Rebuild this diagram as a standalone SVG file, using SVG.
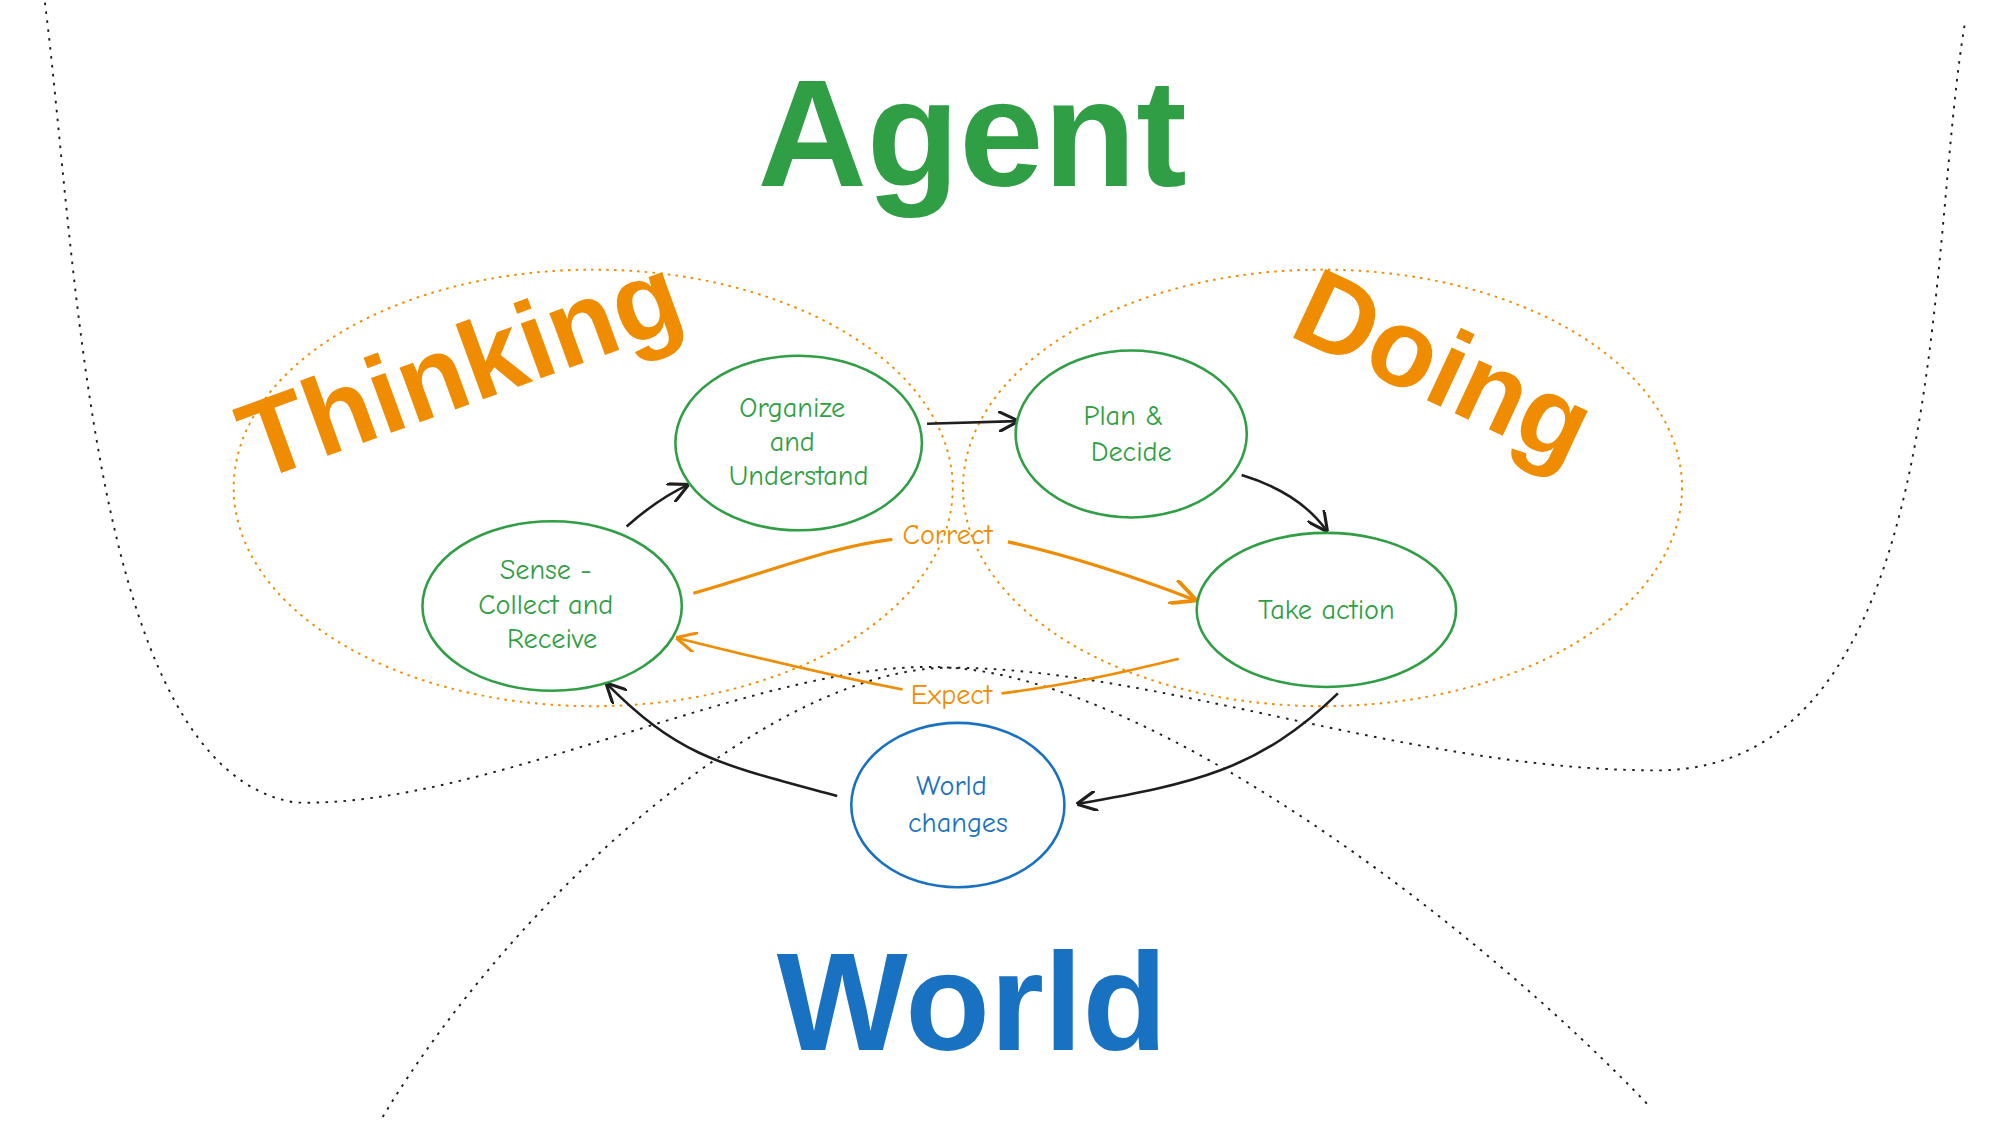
<svg xmlns="http://www.w3.org/2000/svg" width="2003" height="1144" viewBox="0 0 2003 1144">
<defs>
<marker id="ab" viewBox="0 0 10 10" refX="9" refY="5" markerWidth="8" markerHeight="8" orient="auto-start-reverse"><path d="M0,0 L10,5 L0,10" fill="none" stroke="#1e1e1e" stroke-width="1.5"/></marker>
<marker id="ao" viewBox="0 0 10 10" refX="9" refY="5" markerWidth="8" markerHeight="8" orient="auto-start-reverse"><path d="M0,0 L10,5 L0,10" fill="none" stroke="#f08c00" stroke-width="1.5"/></marker>
<style>
.n{fill:#fff;stroke:#2f9e44;stroke-width:2}
.t{font-family:"Comic Neue","Liberation Sans",sans-serif;fill:#2f9e44;font-size:22px;text-anchor:middle}
.big{font-family:"Liberation Sans",sans-serif;font-weight:bold;text-anchor:middle}
.dot{fill:none;stroke:#1e1e1e;stroke-width:1.5;stroke-dasharray:2 5}
.odot{fill:none;stroke:#f08c00;stroke-width:1.5;stroke-dasharray:2 4}
</style>
</defs>
<rect width="2003" height="1144" fill="#fff"/>
<g transform="scale(1.284)">
<g id="bg">
<path class="dot" d="M35,2 C60,200 70,600 230,625 C380,630 600,510 740,520 C900,530 1150,720 1285,862"/>
<path class="dot" d="M1530,20 C1500,200 1520,600 1290,600 C1100,600 900,520 740,520 C600,520 400,700 298,870"/>
<ellipse class="odot" cx="462" cy="380" rx="280" ry="170"/>
<ellipse class="odot" cx="1030" cy="380" rx="280" ry="170"/>
</g>
<g id="titles">
<text class="big" x="757" y="145" font-size="118" fill="#2f9e44">Agent</text>
<text class="big" x="358" y="315" font-size="86" fill="#f08c00" transform="rotate(-20 360 285)">Thinking</text>
<text class="big" x="1125" y="315" font-size="86" fill="#f08c00" transform="rotate(25 1125 285)">Doing</text>
<text class="big" x="757" y="818" font-size="108" fill="#1971c2">World</text>
</g>
<g id="connectors">
<path d="M722,330 L792,328" fill="none" stroke="#1e1e1e" stroke-width="2" marker-end="url(#ab)"/>
<path d="M967,370 C1000,380 1020,395 1033,413" fill="none" stroke="#1e1e1e" stroke-width="2" marker-end="url(#ab)"/>
<path d="M488,410 C505,395 520,385 535,378" fill="none" stroke="#1e1e1e" stroke-width="2" marker-end="url(#ab)"/>
<path d="M1042,540 C980,600 930,610 840,626" fill="none" stroke="#1e1e1e" stroke-width="2" marker-end="url(#ab)"/>
<path d="M652,620 C560,595 530,590 473,533" fill="none" stroke="#1e1e1e" stroke-width="2" marker-end="url(#ab)"/>
<path d="M540,462 C600,445 650,425 695,420 M785,422 C830,432 880,448 930,467" fill="none" stroke="#f08c00" stroke-width="2.5" marker-end="url(#ao)"/>
<path d="M918,513 C870,525 820,535 780,540 M703,537 C640,525 580,510 528,497" fill="none" stroke="#f08c00" stroke-width="2" marker-end="url(#ao)"/>
<text class="t" x="738" y="424" style="fill:#f08c00">Correct</text>
<text class="t" x="741" y="548" style="fill:#f08c00">Expect</text>
</g>
<g id="organize"><ellipse class="n" cx="622" cy="345" rx="96" ry="68"/><text class="t" x="617" y="325">Organize</text><text class="t" x="617" y="351">and</text><text class="t" x="622" y="378">Understand</text></g>
<g id="plan"><ellipse class="n" cx="881" cy="338" rx="90" ry="65"/><text class="t" x="875" y="331">Plan &amp;</text><text class="t" x="881" y="359">Decide</text></g>
<g id="sense"><ellipse class="n" cx="430" cy="472" rx="101" ry="66"/><text class="t" x="425" y="451">Sense -</text><text class="t" x="425" y="478">Collect and</text><text class="t" x="430" y="505">Receive</text></g>
<g id="take"><ellipse class="n" cx="1033" cy="475" rx="101" ry="60"/><text class="t" x="1033" y="482">Take action</text></g>
<g id="world"><ellipse class="n" cx="746" cy="627" rx="83" ry="64" style="stroke:#1971c2"/><text class="t" x="741" y="619" style="fill:#1971c2">World</text><text class="t" x="746" y="648" style="fill:#1971c2">changes</text></g>
</g>
</svg>
